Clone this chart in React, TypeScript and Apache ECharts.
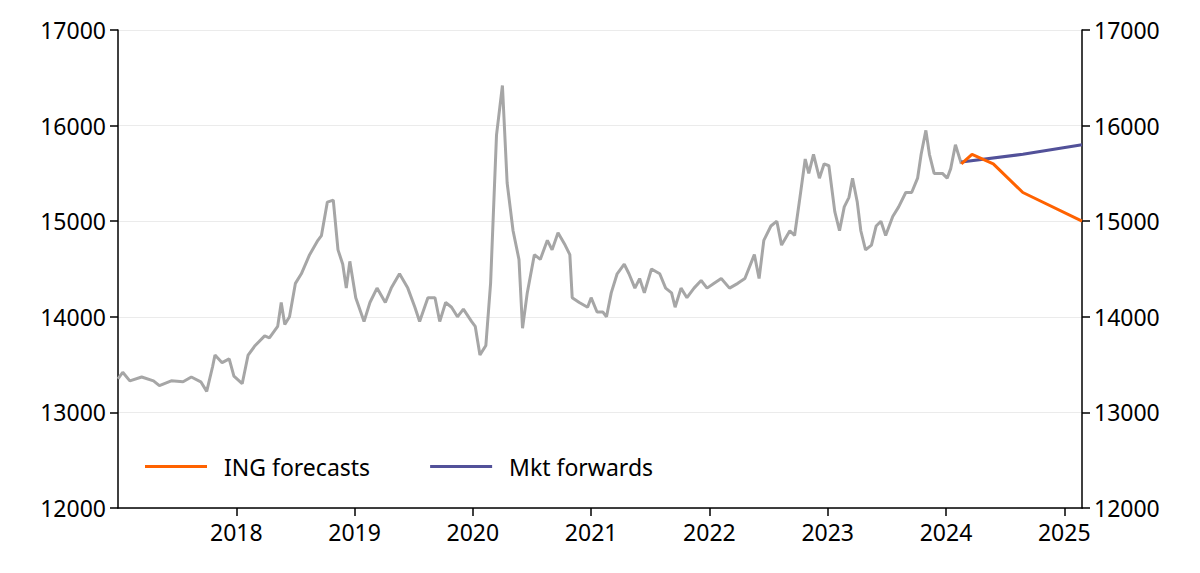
import { useEffect, useRef } from 'react'
import * as echarts from 'echarts'

// decimal year, value
const historyData: [number, number][] = [
  [2017.0, 13350], [2017.04, 13420], [2017.1, 13330], [2017.2, 13370], [2017.3, 13330],
  [2017.35, 13280], [2017.45, 13330], [2017.55, 13320], [2017.62, 13370], [2017.7, 13320],
  [2017.75, 13220], [2017.8, 13480], [2017.82, 13600], [2017.88, 13520], [2017.94, 13560],
  [2017.98, 13380], [2018.05, 13300], [2018.1, 13600], [2018.16, 13700], [2018.24, 13800],
  [2018.28, 13780], [2018.35, 13900], [2018.38, 14150], [2018.41, 13920], [2018.45, 14000],
  [2018.5, 14350], [2018.55, 14450], [2018.62, 14650], [2018.69, 14800], [2018.72, 14850],
  [2018.77, 15200], [2018.82, 15220], [2018.86, 14700], [2018.9, 14550], [2018.93, 14300],
  [2018.96, 14580], [2019.01, 14200], [2019.08, 13950], [2019.13, 14150], [2019.19, 14300],
  [2019.26, 14150], [2019.31, 14300], [2019.38, 14450], [2019.45, 14300], [2019.51, 14100],
  [2019.55, 13950], [2019.62, 14200], [2019.68, 14200], [2019.72, 13950], [2019.77, 14150],
  [2019.82, 14100], [2019.87, 14000], [2019.92, 14080], [2019.99, 13950], [2020.02, 13900],
  [2020.06, 13600], [2020.11, 13700], [2020.15, 14350], [2020.2, 15900], [2020.25, 16420],
  [2020.29, 15400], [2020.34, 14900], [2020.39, 14600], [2020.42, 13880], [2020.46, 14250],
  [2020.52, 14650], [2020.57, 14600], [2020.63, 14800], [2020.67, 14700], [2020.72, 14880],
  [2020.78, 14750], [2020.82, 14650], [2020.84, 14200], [2020.9, 14150], [2020.97, 14100],
  [2021.0, 14200], [2021.05, 14050], [2021.1, 14050], [2021.13, 14000], [2021.17, 14250],
  [2021.22, 14450], [2021.28, 14550], [2021.32, 14450], [2021.37, 14300], [2021.41, 14400],
  [2021.45, 14250], [2021.51, 14500], [2021.58, 14450], [2021.63, 14300], [2021.68, 14250],
  [2021.71, 14100], [2021.76, 14300], [2021.81, 14200], [2021.87, 14300], [2021.93, 14380],
  [2021.98, 14300], [2022.04, 14350], [2022.1, 14400], [2022.17, 14300], [2022.24, 14350],
  [2022.3, 14400], [2022.38, 14650], [2022.42, 14400], [2022.46, 14800], [2022.52, 14950],
  [2022.57, 15000], [2022.61, 14750], [2022.68, 14900], [2022.72, 14850], [2022.76, 15200],
  [2022.81, 15650], [2022.84, 15500], [2022.88, 15700], [2022.93, 15450], [2022.97, 15600],
  [2023.01, 15580], [2023.06, 15100], [2023.1, 14900], [2023.14, 15150], [2023.18, 15250],
  [2023.21, 15450], [2023.25, 15200], [2023.28, 14900], [2023.32, 14700], [2023.37, 14750],
  [2023.41, 14950], [2023.45, 15000], [2023.49, 14850], [2023.55, 15050], [2023.6, 15150],
  [2023.66, 15300], [2023.71, 15300], [2023.76, 15450], [2023.79, 15700], [2023.83, 15950],
  [2023.86, 15700], [2023.9, 15500], [2023.97, 15500], [2024.01, 15450], [2024.04, 15550],
  [2024.08, 15800], [2024.13, 15600],
]

const ingForecasts: [number, number][] = [
  [2024.13, 15600], [2024.22, 15700], [2024.4, 15600], [2024.65, 15300], [2025.15, 15000],
]

const mktForwards: [number, number][] = [
  [2024.13, 15620], [2024.65, 15700], [2025.15, 15800],
]

const FONT = 'Noto Sans'

export default function App() {
  const chartRef = useRef<HTMLDivElement>(null)

  useEffect(() => {
    if (!chartRef.current) return
    const chart = echarts.init(chartRef.current, undefined, { renderer: 'svg' })

    const yAxisBase = {
      type: 'value' as const,
      min: 12000,
      max: 17000,
      interval: 1000,
      axisLine: { show: true, lineStyle: { color: '#000', width: 1.5 } },
      axisTick: { show: true, length: 8, lineStyle: { color: '#000', width: 1.5 } },
      axisLabel: {
        color: '#000',
        fontSize: 23,
        fontFamily: FONT,
        margin: 12,
        formatter: (v: number) => String(v),
      },
    }

    chart.setOption({
      animation: false,
      grid: { left: 110, right: 110, top: 22, bottom: 57 },
      legend: {
        left: 132,
        top: 442,
        itemWidth: 62,
        itemHeight: 3,
        itemGap: 60,
        icon: 'rect',
        textStyle: { fontSize: 23, fontFamily: FONT, color: '#000', padding: [0, 0, 0, 12] },
        data: ['ING forecasts', 'Mkt forwards'],
      },
      xAxis: {
        type: 'value',
        min: 2017,
        max: 2025.15,
        interval: 1,
        splitLine: { show: false },
        axisLine: { lineStyle: { color: '#000', width: 1.5 } },
        axisTick: { show: true, length: 8, lineStyle: { color: '#000', width: 1.5 } },
        axisLabel: {
          color: '#000',
          fontSize: 23,
          fontFamily: FONT,
          margin: 12,
          showMinLabel: false,
          showMaxLabel: false,
          formatter: (v: number) => (Number.isInteger(v) && v > 2017 ? String(v) : ''),
        },
      },
      yAxis: [
        { ...yAxisBase, position: 'left', splitLine: { lineStyle: { color: '#ebebeb', width: 1 } } },
        { ...yAxisBase, position: 'right', splitLine: { show: false } },
      ],
      series: [
        {
          name: 'History',
          type: 'line',
          data: historyData,
          showSymbol: false,
          lineStyle: { color: '#a6a6a6', width: 3 },
          itemStyle: { color: '#a6a6a6' },
          z: 1,
        },
        {
          name: 'ING forecasts',
          type: 'line',
          data: ingForecasts,
          showSymbol: false,
          lineStyle: { color: '#ff6200', width: 3 },
          itemStyle: { color: '#ff6200' },
          z: 3,
        },
        {
          name: 'Mkt forwards',
          type: 'line',
          data: mktForwards,
          showSymbol: false,
          lineStyle: { color: '#525199', width: 3 },
          itemStyle: { color: '#525199' },
          z: 2,
        },
      ],
    })

    return () => chart.dispose()
  }, [])

  return <div ref={chartRef} style={{ width: 1184, height: 557 }} />
}
